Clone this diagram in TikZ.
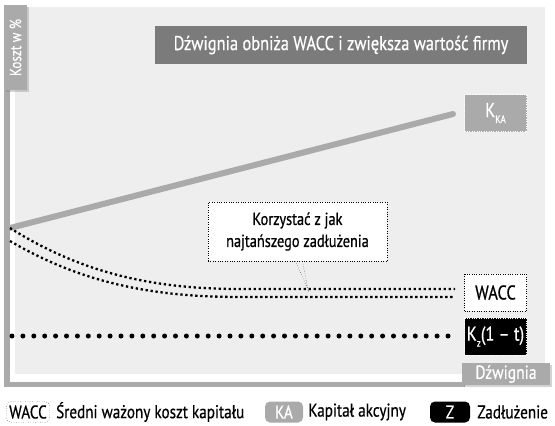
\documentclass[tikz,border=0pt]{standalone}
\usepackage{fontspec}
\setmainfont{PT Sans}[FakeStretch=0.82,FakeBold=0.6]
\usetikzlibrary{positioning,shadows}
\definecolor{panelgrey}{HTML}{EEEEEE}
\definecolor{axisgrey}{HTML}{AAAAAA}
\definecolor{titlegrey}{HTML}{7B7B7B}
\newcommand{\lowsub}[1]{\raisebox{-6pt}{\fontsize{11}{11}\selectfont #1}}

\begin{document}
\begin{tikzpicture}[x=1pt,y=-1pt,
	tag/.style={minimum width=62pt,minimum height=37pt,inner sep=0pt,font=\fontsize{20}{22}\selectfont},
	axisbox/.style={fill=axisgrey,text=white,inner sep=0pt,drop shadow={opacity=0.35,shadow xshift=2pt,shadow yshift=-2pt}},
	key/.style={rounded corners=5pt,minimum height=21pt,inner sep=3pt,font=\fontsize{18.5}{22}\selectfont},
	keytext/.style={inner sep=0pt,font=\fontsize{18.5}{22}\selectfont},
	wdots/.style={line width=2.3pt,dash pattern=on 2.3pt off 2.7pt},
	kdots/.style={line width=5pt,line cap=round,dash pattern=on 0pt off 10.9pt}]
	\useasboundingbox (0,0) rectangle (555,426);

	% panel and axes
	\fill[panelgrey] (15,7) rectangle (545,374);
	\fill[axisgrey] (4,90) rectangle (10,387);
	\fill[axisgrey] (4,382) rectangle (465,387);
	\node[axisbox,minimum width=85pt,minimum height=23pt,rotate=90,font=\fontsize{16}{18}\selectfont] (ylab) at (15.5,47.5) {Koszt w \%};
	\node[axisbox,minimum width=88pt,minimum height=22pt,font=\fontsize{19}{20}\selectfont] (xlab) at (506,374) {Dźwignia};

	% title
	\node[fill=titlegrey,text=white,minimum width=372pt,minimum height=38pt,font=\fontsize{20}{22}\selectfont] (title) at (341,45) {Dźwignia obniża WACC i zwiększa wartość firmy};

	% labels on the right
	\node[tag,fill=axisgrey,draw=white,dotted,text=white] (kka) at (495.5,113) {K\lowsub{KA}};
	\node[tag,fill=white,draw=black,dotted] (wacc) at (495.5,292.5) {WACC};
	\node[tag,fill=black,draw=white,dotted,text=white] (kz) at (495.5,336.5) {K\lowsub{z}(1 -- t)};

	% curves
	\coordinate (o) at (10,228);
	\coordinate (kaend) at (453,114);
	\draw[axisgrey,line width=6pt,line cap=round] (o) -- (kaend);
	\draw[wdots] (o) .. controls (80,272) and (150,289) .. (240,289) -- (455,289);
	\draw[wdots] (10,241) .. controls (80,282) and (150,297) .. (240,297) -- (455,297);
	\draw[kdots] (12,336) -- (455,336);

	% callout
	\node[draw,dotted,fill=white,minimum width=179pt,minimum height=59pt,align=center,font=\fontsize{17.5}{22}\selectfont] (note) at (297.5,231.5) {Korzystać z jak\\najtańszego zadłużenia};
	\coordinate (tip) at (308,290);
	\draw[dotted] ([xshift=-2pt]note.south) -- (tip) -- ([xshift=5pt]note.south);

	% legend
	\node[key,draw,dotted,fill=white] (kwacc) at (28,412) {WACC};
	\node[keytext,right=6pt of kwacc] (twacc) {Średni ważony koszt kapitału};
	\node[key,fill=axisgrey,text=white,minimum width=38pt] (kkey) at (284,412) {KA};
	\node[keytext,right=5pt of kkey] (tkey) {Kapitał akcyjny};
	\node[key,fill=black,text=white,minimum width=40pt] (zkey) at (450,412) {Z};
	\node[keytext,right=7pt of zkey] (tzkey) {Zadłużenie};
\end{tikzpicture}
\end{document}
